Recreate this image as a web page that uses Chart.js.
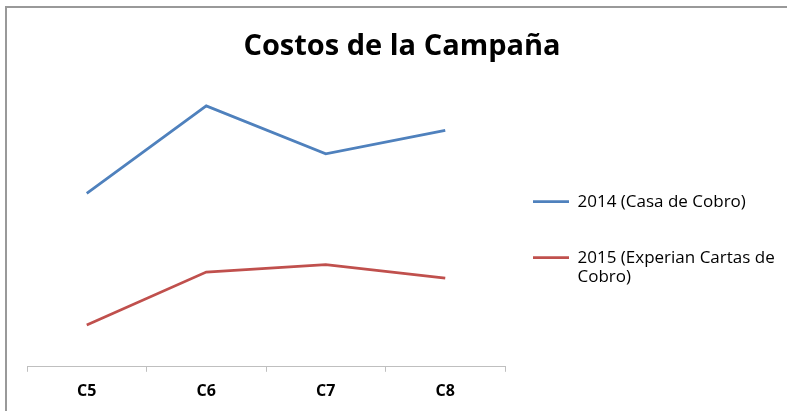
<!DOCTYPE html>
<html>
<head>
<meta charset="utf-8">
<script src="https://cdn.jsdelivr.net/npm/chart.js@4/dist/chart.umd.min.js"></script>
<style>
    html, body { margin: 0; padding: 0; background: #fff; }
    #wrap { position: relative; width: 787px; height: 411px; }
    #frame {
        position: absolute; left: 5px; top: 6px; right: 0; bottom: 0;
        border-left: 2px solid #999; border-top: 2px solid #999;
        pointer-events: none;
    }
</style>
</head>
<body>
<div id="wrap">
    <canvas id="chart" width="787" height="411"></canvas>
    <div id="frame"></div>
</div>
<script>
// Daten
var categories = ['C5', 'C6', 'C7', 'C8'];
var costs2014 = [60.4, 90.9, 74.2, 82.4];
var costs2015 = [14.6, 33.0, 35.6, 30.9];
var seriesNames = [
    ['2014 (Casa de Cobro)', ''],
    ['2015 (Experian Cartas de', 'Cobro)']
];

(function () {
    var ctx = document.getElementById('chart').getContext('2d');
    var axisGray = '#bfbfbf';

    new Chart(ctx, {
        type: 'line',
        data: {
            labels: categories,
            datasets: [
                {
                    label: '2014 (Casa de Cobro)',
                    data: costs2014,
                    borderColor: '#4f81bd',
                    backgroundColor: '#4f81bd',
                    borderWidth: 2.75,
                    pointRadius: 0,
                    tension: 0
                },
                {
                    label: '2015 (Experian Cartas de Cobro)',
                    data: costs2015,
                    borderColor: '#c0504d',
                    backgroundColor: '#c0504d',
                    borderWidth: 2.75,
                    pointRadius: 0,
                    tension: 0
                }
            ]
        },
        options: {
            responsive: false,
            animation: false,
            layout: { padding: { left: 27, right: 10, top: 0, bottom: 0 } },
            plugins: {
                title: {
                    display: true,
                    text: 'Costos de la Campaña',
                    color: '#000',
                    font: { family: 'Open Sans', size: 29, weight: 'bold', lineHeight: 1.2 },
                    padding: { top: 29, bottom: 16 }
                },
                legend: {
                    position: 'right',
                    maxWidth: 262,
                    // leerer Titel schiebt die Einträge nach unten
                    title: { display: true, text: ' ', padding: { top: 55, bottom: 0 }, font: { size: 12 } },
                    labels: {
                        usePointStyle: true,
                        pointStyle: 'line',
                        pointStyleWidth: 36,
                        padding: 18,
                        color: '#000',
                        font: { family: 'Open Sans', size: 17, lineHeight: '19px' },
                        generateLabels: function (chart) {
                            var items = Chart.defaults.plugins.legend.labels.generateLabels(chart);
                            items.forEach(function (item, i) {
                                item.text = seriesNames[i];
                            });
                            return items;
                        }
                    }
                },
                tooltip: { enabled: false }
            },
            scales: {
                x: {
                    offset: true,
                    grid: {
                        offset: true,
                        drawOnChartArea: false,
                        drawTicks: true,
                        tickLength: 5,
                        color: axisGray
                    },
                    border: { display: true, color: axisGray, width: 1 },
                    ticks: {
                        color: '#000',
                        padding: 10,
                        font: { family: 'Open Sans', size: 16, weight: 'bold' }
                    }
                },
                y: {
                    position: 'right',
                    min: 0,
                    max: 100,
                    grid: { display: false },
                    border: { display: false },
                    ticks: { display: false },
                    // kleiner Abstand zwischen Diagramm und Legende
                    afterFit: function (scale) {
                        scale.width = 10;
                    }
                }
            }
        }
    });
})();
</script>
</body>
</html>
